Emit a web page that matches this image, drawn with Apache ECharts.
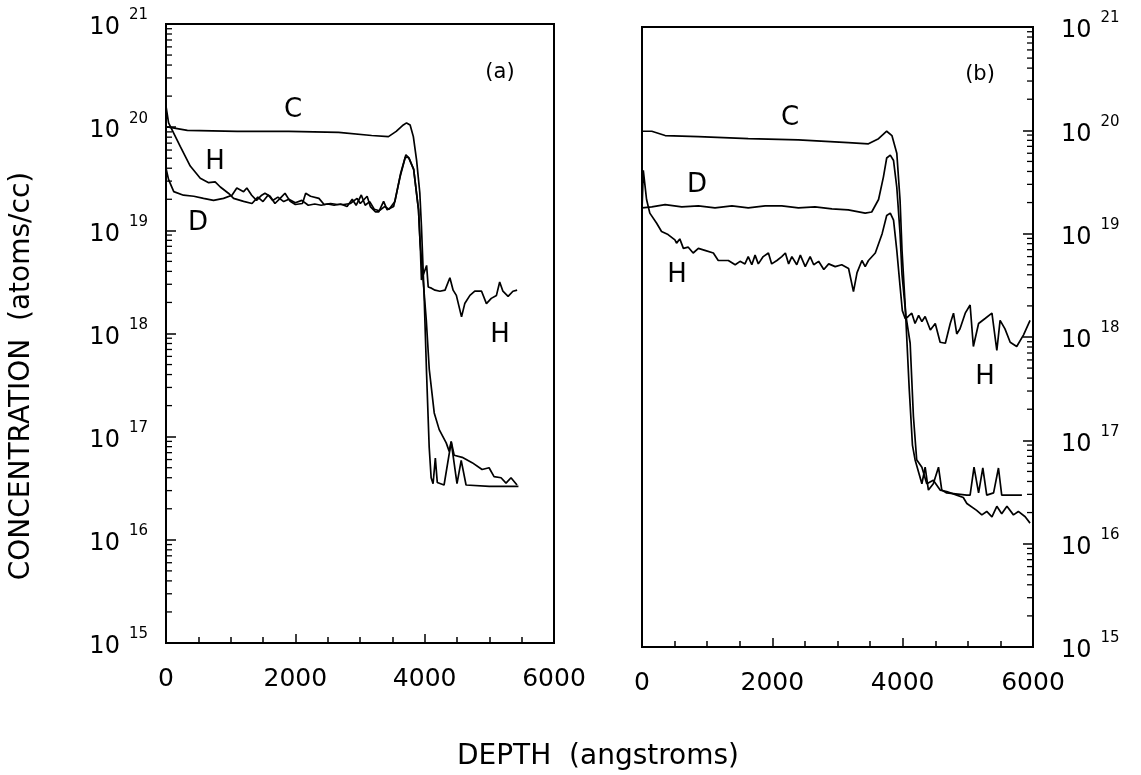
<!DOCTYPE html>
<html>
<head>
<meta charset="utf-8">
<title>Depth profiles</title>
<script src="https://cdn.jsdelivr.net/npm/echarts@6/dist/echarts.min.js"></script>
<style>
  html, body { margin: 0; padding: 0; background: #fff; }
  #chart { width: 1141px; height: 775px; }
</style>
</head>
<body>
<div id="chart"></div>
<script>
// depth in angstroms, concentration in atoms/cc
const xTicks = [0, 2000, 4000, 6000];
const decades = [1e15, 1e16, 1e17, 1e18, 1e19, 1e20];
const logSteps = [2, 3, 4, 5, 6, 7, 8, 9];

// panel (a)
const aC = [[0, 1.0e20], [40, 1.0e20], [330, 9.3e19], [1100, 9.1e19], [1900, 9.1e19], [2670, 8.9e19], [3180, 8.3e19], [3440, 8.1e19], [3560, 9.1e19], [3670, 1.05e20], [3720, 1.1e20], [3775, 1.05e20], [3825, 8.1e19], [3875, 4.8e19], [3925, 2.3e19], [3950, 1.1e19], [3990, 2.5e18], [4030, 4.0e17], [4070, 7.9e16], [4100, 4.0e16], [4130, 3.5e16], [4165, 6.2e16], [4195, 3.6e16], [4300, 3.4e16], [4410, 8.9e16], [4500, 3.5e16], [4565, 5.9e16], [4640, 3.4e16], [5000, 3.3e16], [5450, 3.3e16]];
const aD = [[0, 4.0e19], [40, 3.1e19], [120, 2.37e19], [270, 2.19e19], [430, 2.14e19], [580, 2.04e19], [735, 1.95e19], [890, 2.04e19], [1020, 2.19e19], [1095, 2.57e19], [1200, 2.37e19], [1250, 2.57e19], [1325, 2.19e19], [1400, 1.95e19], [1480, 2.19e19], [1530, 2.29e19], [1610, 2.14e19], [1685, 1.82e19], [1765, 2.04e19], [1840, 2.29e19], [1920, 1.91e19], [2000, 1.78e19], [2110, 1.82e19], [2160, 2.29e19], [2235, 2.14e19], [2365, 2.04e19], [2445, 1.78e19], [2545, 1.82e19], [2650, 1.78e19], [2750, 1.78e19], [2850, 1.82e19], [2955, 2.04e19], [3005, 1.82e19], [3110, 2.14e19], [3160, 1.70e19], [3240, 1.51e19], [3290, 1.51e19], [3365, 1.91e19], [3420, 1.58e19], [3520, 1.70e19], [3620, 3.31e19], [3700, 5.1e19], [3750, 5.1e19], [3830, 3.9e19], [3905, 1.58e19], [3930, 7.6e18], [3963, 4.2e18], [4025, 1.35e18], [4071, 4.5e17], [4148, 1.7e17], [4225, 1.17e17], [4333, 8.7e16], [4380, 7.2e16], [4410, 9.0e16], [4456, 6.6e16], [4580, 6.3e16], [4734, 5.6e16], [4888, 4.8e16], [4996, 5.0e16], [5073, 4.1e16], [5181, 4.0e16], [5258, 3.55e16], [5335, 4.0e16], [5428, 3.4e16]];
const aH = [[0, 1.6e20], [40, 1.1e20], [220, 6.5e19], [375, 4.2e19], [530, 3.2e19], [660, 2.9e19], [760, 2.95e19], [840, 2.63e19], [965, 2.29e19], [1045, 2.04e19], [1200, 1.91e19], [1330, 1.82e19], [1420, 2.1e19], [1500, 1.9e19], [1580, 2.2e19], [1650, 1.95e19], [1730, 2.1e19], [1820, 1.9e19], [1900, 2.0e19], [2000, 1.85e19], [2100, 1.95e19], [2200, 1.75e19], [2300, 1.8e19], [2400, 1.75e19], [2500, 1.8e19], [2600, 1.75e19], [2700, 1.8e19], [2800, 1.7e19], [2880, 2.0e19], [2940, 1.75e19], [3020, 2.2e19], [3080, 1.75e19], [3150, 1.9e19], [3220, 1.6e19], [3300, 1.55e19], [3380, 1.7e19], [3450, 1.6e19], [3540, 1.9e19], [3630, 3.6e19], [3710, 5.4e19], [3760, 5.0e19], [3830, 3.9e19], [3905, 1.58e19], [3935, 6.3e18], [3950, 3.3e18], [4030, 4.57e18], [4055, 2.82e18], [4105, 2.75e18], [4160, 2.63e18], [4235, 2.57e18], [4315, 2.63e18], [4390, 3.47e18], [4440, 2.63e18], [4490, 2.34e18], [4570, 1.45e18], [4620, 1.95e18], [4700, 2.34e18], [4775, 2.57e18], [4880, 2.57e18], [4955, 1.95e18], [5030, 2.19e18], [5110, 2.34e18], [5160, 3.16e18], [5210, 2.57e18], [5290, 2.29e18], [5365, 2.57e18], [5430, 2.63e18]];

// panel (b)
const bC = [[0, 9.8e19], [150, 9.8e19], [355, 8.9e19], [865, 8.7e19], [1630, 8.3e19], [2400, 8.1e19], [3165, 7.6e19], [3475, 7.4e19], [3630, 8.3e19], [3755, 9.8e19], [3835, 8.9e19], [3910, 6.0e19], [3960, 2.1e19], [3990, 6.9e18], [4040, 1.95e18], [4100, 3.2e17], [4150, 9.0e16], [4190, 6.5e16], [4295, 3.8e16], [4345, 5.5e16], [4395, 3.3e16], [4470, 3.8e16], [4550, 5.5e16], [4600, 3.3e16], [4675, 3.1e16], [4985, 2.95e16], [5035, 2.95e16], [5095, 5.5e16], [5165, 3.1e16], [5230, 5.4e16], [5290, 2.95e16], [5395, 3.1e16], [5470, 5.4e16], [5520, 2.95e16], [5830, 2.95e16]];
const bD = [[0, 1.78e19], [150, 1.82e19], [355, 1.91e19], [610, 1.82e19], [865, 1.86e19], [1120, 1.78e19], [1380, 1.86e19], [1630, 1.78e19], [1890, 1.86e19], [2145, 1.86e19], [2400, 1.78e19], [2655, 1.82e19], [2915, 1.74e19], [3165, 1.70e19], [3425, 1.58e19], [3525, 1.62e19], [3630, 2.14e19], [3705, 3.55e19], [3755, 5.4e19], [3810, 5.75e19], [3860, 5.1e19], [3910, 2.8e19], [3960, 1.0e19], [3990, 4.0e18], [4050, 1.6e18], [4115, 8.7e17], [4165, 1.7e17], [4215, 6.5e16], [4295, 5.5e16], [4370, 3.8e16], [4470, 4.1e16], [4575, 3.3e16], [4675, 3.2e16], [4830, 2.95e16], [4930, 2.8e16], [4985, 2.45e16], [5135, 2.1e16], [5215, 1.9e16], [5290, 2.05e16], [5370, 1.82e16], [5445, 2.3e16], [5520, 1.95e16], [5600, 2.3e16], [5700, 1.9e16], [5775, 2.05e16], [5880, 1.82e16], [5955, 1.58e16]];
const bH = [[0, 1.7e19], [20, 4.1e19], [70, 2.14e19], [120, 1.58e19], [225, 1.26e19], [300, 1.05e19], [400, 9.8e18], [505, 8.7e18], [530, 8.1e18], [580, 8.9e18], [635, 7.2e18], [710, 7.4e18], [785, 6.5e18], [865, 7.2e18], [965, 6.9e18], [1095, 6.5e18], [1170, 5.5e18], [1325, 5.5e18], [1430, 5.0e18], [1505, 5.4e18], [1580, 5.1e18], [1630, 6.0e18], [1685, 5.0e18], [1735, 6.2e18], [1785, 5.1e18], [1860, 6.0e18], [1940, 6.5e18], [1990, 5.1e18], [2070, 5.5e18], [2145, 6.0e18], [2200, 6.5e18], [2250, 5.1e18], [2300, 6.0e18], [2375, 5.0e18], [2430, 6.2e18], [2505, 4.8e18], [2580, 6.0e18], [2635, 5.0e18], [2710, 5.4e18], [2790, 4.5e18], [2865, 5.1e18], [2965, 4.8e18], [3065, 5.0e18], [3170, 4.6e18], [3245, 2.75e18], [3300, 4.2e18], [3375, 5.5e18], [3425, 4.8e18], [3475, 5.5e18], [3580, 6.5e18], [3685, 1.0e19], [3755, 1.5e19], [3810, 1.58e19], [3860, 1.35e19], [3910, 6.9e18], [3960, 3.1e18], [3995, 1.8e18], [4040, 1.5e18], [4085, 1.58e18], [4140, 1.7e18], [4190, 1.35e18], [4245, 1.62e18], [4295, 1.41e18], [4345, 1.58e18], [4425, 1.17e18], [4500, 1.35e18], [4575, 8.9e17], [4655, 8.7e17], [4730, 1.35e18], [4780, 1.7e18], [4830, 1.07e18], [4880, 1.2e18], [4960, 1.7e18], [5035, 2.04e18], [5085, 8.1e17], [5165, 1.35e18], [5265, 1.51e18], [5370, 1.7e18], [5445, 7.4e17], [5495, 1.45e18], [5570, 1.2e18], [5650, 8.9e17], [5750, 8.1e17], [5855, 1.05e18], [5955, 1.45e18]];

const FONT = 'DejaVu Sans';

// 2..9 x 10^n positions for the log minor ticks
const minorVals = [];
decades.forEach(function (d) {
  logSteps.forEach(function (k) { minorVals.push(k * d); });
});

function xAxisFor(grid) {
  return {
    type: 'value',
    gridIndex: grid,
    min: xTicks[0],
    max: xTicks[xTicks.length - 1],
    interval: 2000,
    axisLine: { show: true, onZero: false, lineStyle: { color: '#000', width: 2 } },
    axisTick: { show: true, inside: true, length: 9, lineStyle: { color: '#000', width: 1.5 } },
    minorTick: { show: true, splitNumber: 4, length: 6, lineStyle: { color: '#000', width: 1.5 } },
    splitLine: { show: false },
    axisLabel: {
      color: '#000', fontFamily: FONT, fontSize: 25, margin: 24,
      formatter: function (v) { return String(v); }
    }
  };
}

function yAxisFor(grid, side) {
  return {
    type: 'log',
    logBase: 10,
    gridIndex: grid,
    position: side,
    min: 1e15,
    max: 1e21,
    axisLine: { show: true, onZero: false, lineStyle: { color: '#000', width: 2 } },
    axisTick: { show: true, inside: true, length: 10, lineStyle: { color: '#000', width: 1.5 } },
    minorTick: { show: false },
    splitLine: { show: false },
    axisLabel: {
      color: '#000',
      margin: side === 'left' ? 18 : 28,
      formatter: function (v) {
        return '{b|10}{s|' + Math.round(Math.log10(v)) + '}';
      },
      rich: {
        b: { fontFamily: FONT, fontSize: 24, padding: [8, 0, 0, 0] },
        s: { fontFamily: FONT, fontSize: 15, verticalAlign: 'top', padding: [0, 0, 0, 9] }
      }
    }
  };
}

function curve(data, idx) {
  return {
    type: 'line',
    xAxisIndex: idx,
    yAxisIndex: idx,
    data: data,
    showSymbol: false,
    silent: true,
    lineStyle: { color: '#000', width: 1.7 }
  };
}

// short inward ticks at 2..9 x 10^n, placed through the log axis
function minorTicks(idx, edge, dir) {
  return {
    type: 'custom',
    xAxisIndex: idx,
    yAxisIndex: idx,
    silent: true,
    clip: false,
    data: minorVals.map(function (v) { return [edge, v]; }),
    renderItem: function (params, api) {
      const p = api.coord([api.value(0), api.value(1)]);
      return {
        type: 'line',
        shape: { x1: p[0], y1: p[1], x2: p[0] + dir * 6, y2: p[1] },
        style: { stroke: '#000', lineWidth: 1.3 }
      };
    }
  };
}

function tag(text, x, y, size) {
  return {
    type: 'text', x: x, y: y,
    style: { text: text, fill: '#000', font: size + 'px "' + FONT + '"', textAlign: 'center', textVerticalAlign: 'middle' }
  };
}

const chart = echarts.init(document.getElementById('chart'));
chart.setOption({
  animation: false,
  backgroundColor: '#fff',
  grid: [
    { left: 166, right: 587, top: 24, bottom: 132, show: true, borderColor: '#000', borderWidth: 2 },
    { left: 642, right: 108, top: 27, bottom: 128, show: true, borderColor: '#000', borderWidth: 2 }
  ],
  xAxis: [xAxisFor(0), xAxisFor(1)],
  yAxis: [yAxisFor(0, 'left'), yAxisFor(1, 'right')],
  series: [
    curve(aC, 0), curve(aD, 0), curve(aH, 0),
    curve(bC, 1), curve(bD, 1), curve(bH, 1),
    minorTicks(0, xTicks[0], 1),
    minorTicks(1, xTicks[xTicks.length - 1], -1)
  ],
  graphic: [
    tag('C', 293, 110, 26), tag('H', 215, 162, 26), tag('D', 198, 223, 26),
    tag('(a)', 500, 73, 21), tag('H', 500, 335, 26),
    tag('(b)', 980, 75, 21), tag('C', 790, 118, 26), tag('D', 697, 185, 26),
    tag('H', 677, 275, 26), tag('H', 985, 377, 26),
    {
      type: 'text', x: 22, y: 376, rotation: Math.PI / 2,
      style: { text: 'CONCENTRATION  (atoms/cc)', fill: '#000', font: '28px "' + FONT + '"', textAlign: 'center', textVerticalAlign: 'middle' }
    },
    tag('DEPTH  (angstroms)', 598, 757, 28)
  ]
});
</script>
</body>
</html>
